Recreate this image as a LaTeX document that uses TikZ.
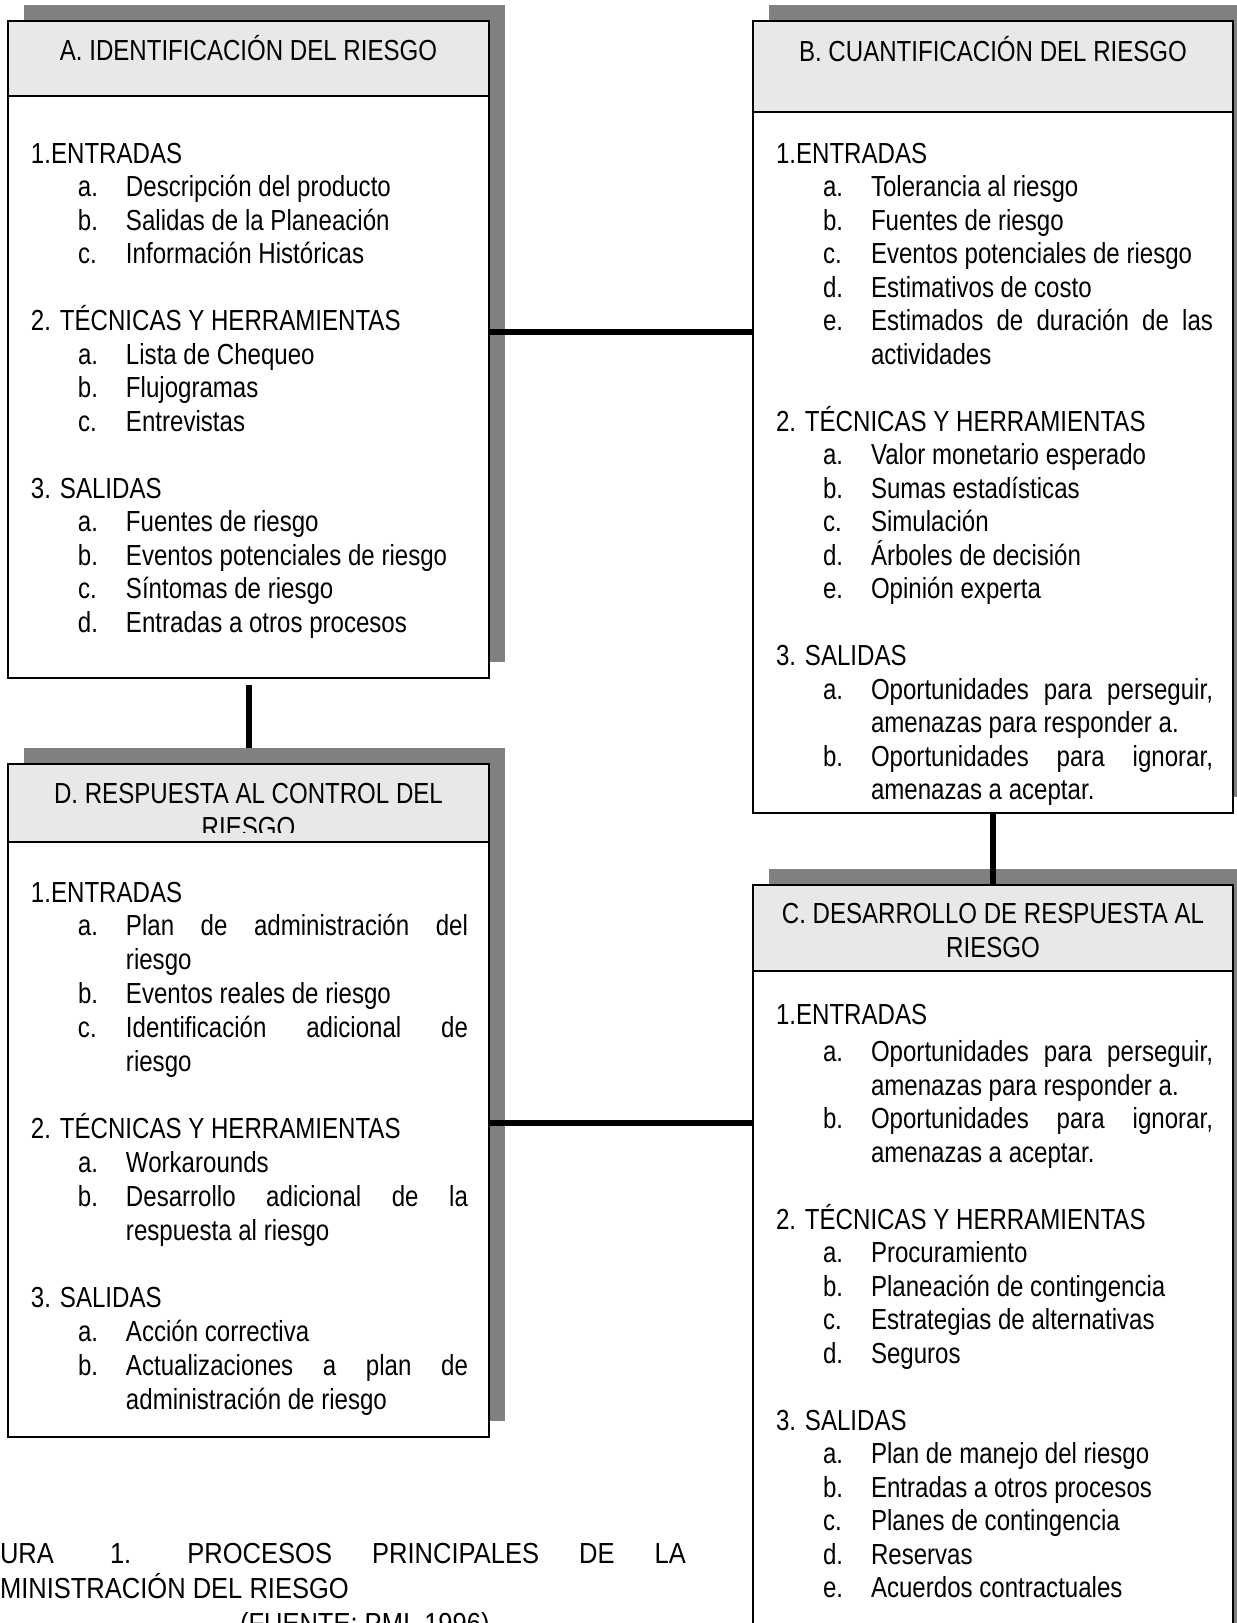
\documentclass[tikz,border=0pt]{standalone}
\usepackage{fontspec}
\setmainfont{Liberation Sans}[FakeStretch=0.83]
\newfontfamily\capfont{Liberation Sans}[FakeStretch=0.88]
\definecolor{hdrgray}{RGB}{232,232,232}
\definecolor{shadowgray}{RGB}{128,128,128}
\newcommand\bodyfont{\fontsize{14.5pt}{16.75pt}\selectfont}
\newcommand\capf{\capfont\fontsize{14.5pt}{17pt}\selectfont}
\newcommand\Sec[1]{\hbox{#1}}
\newcommand\Itm[2]{\hbox{\hskip23.5pt\relax\hbox to24pt{#1\hss}#2}}
\newcommand\Jst[2]{\hbox{\hskip23.5pt\relax\hbox to24pt{#1\hss}\hbox to171pt{#2}}}
\newcommand\Cnt[1]{\hbox{\hskip47.5pt\relax #1}}
\newcommand\Blank{\hbox{}}
\newcommand\Body[2]{\vtop{\baselineskip=#1\lineskiplimit=-20pt\lineskip=0pt #2}}
\tikzset{
  px/.style 2 args={minimum width={#1*0.5pt}, minimum height={#2*0.5pt}},
  shadowbox/.style={fill=shadowgray, draw=none, inner sep=0, outer sep=0, anchor=north west},
  mainbox/.style={fill=white, draw=black, line width=1pt, inner sep=0, outer sep=0, anchor=north west},
  hdrbox/.style={fill=hdrgray, draw=black, line width=1pt, inner sep=0, outer sep=0, anchor=north west},
  conn/.style={line width=3pt, draw=black},
  txt/.style={inner sep=0, outer sep=0, font=\bodyfont},
  captxt/.style={inner sep=0, outer sep=0, font=\capf, anchor=base west},
}
\begin{document}
\begin{tikzpicture}[x=0.5pt, y=-0.5pt]
\useasboundingbox (0,0) rectangle (1237,1623);
\clip (0,0) rectangle (1237,1623);

% shadows
\node[shadowbox, px={481}{657}] (As) at (24,5) {};
\node[shadowbox, px={480}{792}] (Bs) at (769,5) {};
\node[shadowbox, px={480}{820}] (Cs) at (769,869) {};
\node[shadowbox, px={481}{673}] (Ds) at (24,748) {};

% boxes
\node[mainbox, px={481}{657}] (A) at (8,21) {};
\node[mainbox, px={480}{792}] (B) at (753,21) {};
\node[mainbox, px={480}{820}] (C) at (753,885) {};
\node[mainbox, px={481}{673}] (D) at (8,764) {};

% headers
\node[hdrbox, px={481}{75}] (Ahd) at (A.north west) {};
\node[hdrbox, px={480}{91}] (Bhd) at (B.north west) {};
\node[hdrbox, px={480}{86}] (Chd) at (C.north west) {};
\node[hdrbox, px={481}{78}] (Dhd) at (D.north west) {};

% header texts
\node[txt, anchor=base] (Aht) at (248.5,60) {A. IDENTIFICACIÓN DEL RIESGO};
\node[txt, anchor=base] (Bht) at (993,61) {B. CUANTIFICACIÓN DEL RIESGO};
\node[txt, anchor=base] (Cht1) at (993,923) {C. DESARROLLO DE RESPUESTA AL};
\node[txt, anchor=base] (Cht2) at (993,957) {RIESGO};
\node[txt, anchor=base] (Dht1) at (248.5,803) {D. RESPUESTA AL CONTROL DEL};
\begin{scope}
  \clip (8,764) rectangle (489,832);
  \node[txt, anchor=base] (Dht2) at (248.5,837) {RIESGO};
\end{scope}

% bodies
\node[txt, anchor=base west] (Abody) at (31,163) {\Body{16.75pt}{%
  \Sec{1.ENTRADAS}
  \Itm{a.}{Descripción del producto}
  \Itm{b.}{Salidas de la Planeación}
  \Itm{c.}{Información Históricas}
  \Blank
  \Sec{2. TÉCNICAS Y HERRAMIENTAS}
  \Itm{a.}{Lista de Chequeo}
  \Itm{b.}{Flujogramas}
  \Itm{c.}{Entrevistas}
  \Blank
  \Sec{3. SALIDAS}
  \Itm{a.}{Fuentes de riesgo}
  \Itm{b.}{Eventos potenciales de riesgo}
  \Itm{c.}{Síntomas de riesgo}
  \Itm{d.}{Entradas a otros procesos}}};

\node[txt, anchor=base west] (Bbody) at (776,163) {\Body{16.75pt}{%
  \Sec{1.ENTRADAS}
  \Itm{a.}{Tolerancia al riesgo}
  \Itm{b.}{Fuentes de riesgo}
  \Itm{c.}{Eventos potenciales de riesgo}
  \Itm{d.}{Estimativos de costo}
  \Jst{e.}{Estimados\hfill de\hfill duración\hfill de\hfill las}
  \Cnt{actividades}
  \Blank
  \Sec{2. TÉCNICAS Y HERRAMIENTAS}
  \Itm{a.}{Valor monetario esperado}
  \Itm{b.}{Sumas estadísticas}
  \Itm{c.}{Simulación}
  \Itm{d.}{Árboles de decisión}
  \Itm{e.}{Opinión experta}
  \Blank
  \Sec{3. SALIDAS}
  \Jst{a.}{Oportunidades\hfill para\hfill perseguir,}
  \Cnt{amenazas para responder a.}
  \Jst{b.}{Oportunidades\hfill para\hfill ignorar,}
  \Cnt{amenazas a aceptar.}}};

\node[txt, anchor=base west] (Cbody) at (776,1024) {\Body{16.75pt}{%
  \Sec{1.ENTRADAS}
  \vskip2pt
  \Jst{a.}{Oportunidades\hfill para\hfill perseguir,}
  \Cnt{amenazas para responder a.}
  \Jst{b.}{Oportunidades\hfill para\hfill ignorar,}
  \Cnt{amenazas a aceptar.}
  \Blank
  \Sec{2. TÉCNICAS Y HERRAMIENTAS}
  \Itm{a.}{Procuramiento}
  \Itm{b.}{Planeación de contingencia}
  \Itm{c.}{Estrategias de alternativas}
  \Itm{d.}{Seguros}
  \Blank
  \Sec{3. SALIDAS}
  \Itm{a.}{Plan de manejo del riesgo}
  \Itm{b.}{Entradas a otros procesos}
  \Itm{c.}{Planes de contingencia}
  \Itm{d.}{Reservas}
  \Itm{e.}{Acuerdos contractuales}}};

\node[txt, anchor=base west] (Dbody) at (31,902) {\Body{16.9pt}{%
  \Sec{1.ENTRADAS}
  \Jst{a.}{Plan\hfill de\hfill administración\hfill del}
  \Cnt{riesgo}
  \Itm{b.}{Eventos reales de riesgo}
  \Jst{c.}{Identificación\hfill adicional\hfill de}
  \Cnt{riesgo}
  \Blank
  \Sec{2. TÉCNICAS Y HERRAMIENTAS}
  \Itm{a.}{Workarounds}
  \Jst{b.}{Desarrollo\hfill adicional\hfill de\hfill la}
  \Cnt{respuesta al riesgo}
  \Blank
  \Sec{3. SALIDAS}
  \Itm{a.}{Acción correctiva}
  \Jst{b.}{Actualizaciones\hfill a\hfill plan\hfill de}
  \Cnt{administración de riesgo}}};

% connectors
\coordinate (ab) at (0,332);
\coordinate (dc) at (0,1123);
\draw[conn] (A.east |- ab) -- (B.west |- ab);
\draw[conn] ([yshift=-3.5pt]A.south) -- (A.south |- Ds.north);
\draw[conn] (B.south) -- (C.north);
\draw[conn] (D.east |- dc) -- (C.west |- dc);

% caption
\node[captxt] (cap1) at (0,1563) {\hbox to 343pt{URA\hspace{\stretch{1.4}}1.\hspace{\stretch{1.4}}PROCESOS\hfill PRINCIPALES\hfill DE\hfill LA}};
\node[captxt] (cap2) at (0,1598) {MINISTRACIÓN DEL RIESGO};
\node[captxt] (cap3) at (240,1633) {(FUENTE: PMI, 1996)};
\end{tikzpicture}
\end{document}
